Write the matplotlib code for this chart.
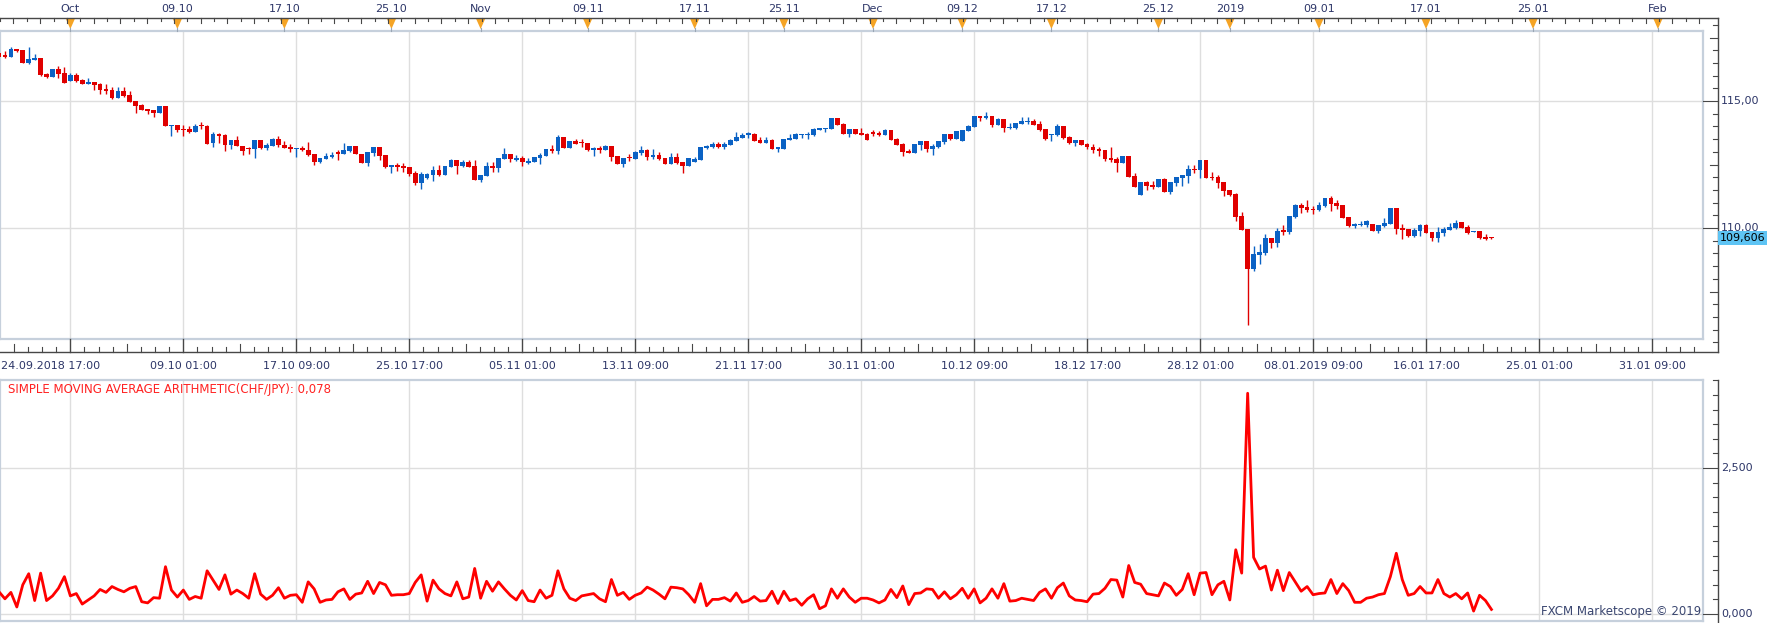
import matplotlib
matplotlib.use('Agg')
import matplotlib.pyplot as plt
import matplotlib.transforms as mtransforms
from matplotlib.patches import Polygon
import numpy as np

# CHF/JPY 8-hour candles
opens = [
    116.88, 116.77, 116.75, 117.05, 116.99, 116.51, 116.63, 116.69, 116.06, 115.96,
    116.26, 116.10, 115.80, 116.02, 115.84, 115.68, 115.75, 115.67, 115.49, 115.43,
    115.13, 115.39, 115.24, 115.00, 114.86, 114.69, 114.65, 114.54, 114.80, 114.00,
    114.05, 113.88, 113.90, 113.79, 114.04, 114.03, 113.33, 113.70, 113.66, 113.28,
    113.46, 113.23, 113.12, 113.10, 113.45, 113.16, 113.24, 113.49, 113.27, 113.19,
    113.11, 113.15, 113.06, 112.91, 112.61, 112.73, 112.79, 113.00, 112.93, 113.04,
    113.23, 112.91, 112.57, 112.97, 113.19, 112.87, 112.40, 112.48, 112.45, 112.40,
    112.16, 111.78, 111.98, 112.10, 112.28, 112.10, 112.42, 112.68, 112.45, 112.61,
    112.44, 111.90, 112.06, 112.44, 112.36, 112.73, 112.91, 112.69, 112.77, 112.57,
    112.61, 112.77, 112.85, 113.11, 113.03, 113.58, 113.16, 113.44, 113.36, 113.35,
    113.07, 113.15, 113.07, 113.23, 112.84, 112.53, 112.77, 112.72, 112.95, 113.07,
    112.81, 112.87, 112.76, 112.52, 112.80, 112.60, 112.45, 112.61, 112.69, 113.16,
    113.19, 113.31, 113.18, 113.28, 113.43, 113.56, 113.66, 113.71, 113.48, 113.36,
    113.47, 113.12, 113.12, 113.47, 113.50, 113.67, 113.67, 113.67, 113.86, 113.90,
    113.91, 114.33, 114.09, 113.71, 113.89, 113.74, 113.71, 113.77, 113.74, 113.67,
    113.86, 113.50, 113.31, 113.05, 112.97, 113.27, 113.43, 113.11, 113.20, 113.40,
    113.70, 113.50, 113.43, 113.81, 113.99, 114.41, 114.34, 114.41, 114.07, 114.29,
    113.94, 113.94, 114.11, 114.17, 114.21, 114.09, 113.90, 113.65, 113.65, 114.02,
    113.58, 113.36, 113.47, 113.31, 113.20, 113.11, 113.07, 112.76, 112.72, 112.56,
    112.84, 112.06, 111.31, 111.81, 111.69, 111.63, 111.93, 111.43, 111.78, 111.98,
    112.06, 112.32, 112.28, 112.68, 112.02, 112.01, 111.81, 111.50, 111.35, 110.47,
    109.96, 108.40, 108.94, 109.02, 109.61, 109.41, 109.91, 109.86, 110.43, 110.90,
    110.83, 110.76, 110.71, 110.87, 111.18, 110.98, 110.90, 110.43, 110.08, 110.12,
    110.12, 110.16, 109.88, 110.08, 110.16, 110.79, 110.00, 109.96, 109.69, 109.88,
    110.12, 109.84, 109.61, 109.80, 109.92, 110.00, 110.24, 110.04, 109.84, 109.88,
    109.65, 109.62,
]
highs = [
    116.91, 116.97, 117.11, 117.06, 117.00, 117.13, 116.85, 116.70, 116.12, 116.26,
    116.36, 116.34, 116.10, 116.10, 115.85, 115.91, 115.76, 115.71, 115.66, 115.56,
    115.54, 115.55, 115.39, 115.01, 114.87, 114.70, 114.66, 114.80, 114.81, 114.05,
    114.06, 114.05, 114.00, 114.08, 114.17, 114.05, 113.78, 113.75, 113.71, 113.46,
    113.62, 113.24, 113.20, 113.46, 113.46, 113.33, 113.54, 113.64, 113.42, 113.32,
    113.14, 113.23, 113.40, 112.92, 112.77, 112.94, 112.99, 113.07, 113.35, 113.24,
    113.24, 112.92, 113.00, 113.20, 113.20, 112.88, 112.49, 112.57, 112.55, 112.41,
    112.23, 112.22, 112.16, 112.44, 112.48, 112.44, 112.72, 112.69, 112.68, 112.68,
    112.68, 112.08, 112.61, 112.61, 112.77, 113.15, 112.92, 112.86, 112.84, 112.76,
    112.81, 112.94, 113.11, 113.27, 113.67, 113.59, 113.42, 113.52, 113.49, 113.36,
    113.20, 113.23, 113.27, 113.24, 112.85, 112.77, 112.90, 113.03, 113.23, 113.12,
    113.11, 113.00, 112.77, 112.97, 112.97, 112.61, 112.77, 112.80, 113.20, 113.25,
    113.40, 113.40, 113.40, 113.49, 113.78, 113.73, 113.79, 113.74, 113.58, 113.58,
    113.49, 113.19, 113.50, 113.69, 113.75, 113.71, 113.78, 113.94, 113.94, 113.92,
    114.33, 114.34, 114.13, 113.89, 113.90, 113.94, 113.75, 113.85, 113.81, 113.90,
    113.87, 113.56, 113.33, 113.10, 113.31, 113.43, 113.44, 113.31, 113.43, 113.70,
    113.71, 113.82, 113.86, 114.07, 114.41, 114.42, 114.57, 114.42, 114.33, 114.30,
    114.13, 114.13, 114.37, 114.36, 114.29, 114.20, 113.91, 113.71, 114.09, 114.03,
    113.62, 113.48, 113.48, 113.33, 113.29, 113.20, 113.08, 113.20, 112.78, 112.84,
    112.85, 112.16, 111.81, 111.86, 111.85, 111.93, 111.96, 111.82, 111.99, 112.09,
    112.48, 112.48, 112.68, 112.69, 112.22, 112.09, 111.82, 111.51, 111.39, 110.63,
    109.97, 109.29, 109.37, 109.76, 109.62, 110.00, 110.12, 110.47, 110.94, 110.98,
    111.10, 110.88, 111.02, 111.19, 111.26, 111.10, 110.91, 110.44, 110.20, 110.28,
    110.31, 110.17, 110.13, 110.39, 110.79, 110.80, 110.16, 109.97, 110.00, 110.16,
    110.16, 109.85, 110.04, 110.04, 110.20, 110.31, 110.25, 110.12, 109.88, 109.89,
    109.76, 109.63,
]
lows = [
    116.73, 116.71, 116.74, 116.94, 116.50, 116.44, 116.62, 116.00, 115.89, 115.95,
    115.92, 115.70, 115.79, 115.75, 115.68, 115.67, 115.45, 115.29, 115.29, 115.09,
    115.12, 115.17, 114.95, 114.54, 114.65, 114.50, 114.38, 114.53, 114.00, 113.64,
    113.77, 113.64, 113.75, 113.78, 113.90, 113.31, 113.20, 113.33, 113.04, 113.12,
    113.21, 112.89, 112.93, 112.77, 113.12, 113.08, 113.22, 113.19, 113.15, 113.00,
    112.81, 113.03, 112.85, 112.49, 112.57, 112.70, 112.74, 112.69, 112.92, 112.99,
    112.90, 112.56, 112.44, 112.85, 112.66, 112.38, 112.17, 112.24, 112.22, 112.06,
    111.69, 111.55, 111.94, 111.86, 112.05, 112.09, 112.41, 112.14, 112.42, 112.39,
    111.90, 111.81, 112.05, 112.22, 112.22, 112.72, 112.60, 112.62, 112.44, 112.53,
    112.60, 112.53, 112.84, 112.95, 112.93, 113.16, 113.15, 113.29, 113.18, 113.03,
    112.85, 112.97, 113.06, 112.65, 112.53, 112.40, 112.65, 112.71, 112.87, 112.66,
    112.70, 112.66, 112.51, 112.51, 112.52, 112.18, 112.44, 112.60, 112.68, 113.11,
    113.15, 113.15, 113.12, 113.27, 113.42, 113.53, 113.56, 113.44, 113.36, 113.35,
    113.10, 113.01, 113.11, 113.46, 113.49, 113.56, 113.52, 113.61, 113.85, 113.78,
    113.90, 114.07, 113.70, 113.60, 113.70, 113.67, 113.48, 113.61, 113.62, 113.66,
    113.45, 113.28, 112.85, 112.94, 112.96, 113.07, 113.01, 112.89, 113.16, 113.32,
    113.45, 113.49, 113.42, 113.80, 113.98, 114.23, 114.30, 113.99, 114.06, 113.78,
    113.91, 113.90, 114.10, 114.11, 114.06, 113.83, 113.48, 113.44, 113.64, 113.50,
    113.31, 113.24, 113.25, 113.12, 112.95, 112.85, 112.64, 112.61, 112.20, 112.55,
    112.02, 111.62, 111.30, 111.51, 111.52, 111.62, 111.43, 111.35, 111.67, 111.67,
    111.79, 112.15, 111.98, 111.98, 111.89, 111.59, 111.26, 111.27, 110.29, 109.93,
    106.19, 108.32, 108.60, 108.94, 109.21, 109.25, 109.72, 109.76, 110.39, 110.59,
    110.63, 110.55, 110.67, 110.83, 110.67, 110.75, 110.39, 110.04, 110.00, 110.08,
    110.04, 109.88, 109.80, 110.04, 110.15, 109.76, 109.57, 109.65, 109.65, 109.69,
    109.80, 109.49, 109.45, 109.69, 109.91, 109.96, 109.99, 109.76, 109.83, 109.57,
    109.53, 109.55,
]
closes = [
    116.75, 116.75, 117.05, 116.98, 116.51, 116.65, 116.69, 116.02, 115.94, 116.26,
    116.08, 115.72, 116.04, 115.80, 115.68, 115.75, 115.63, 115.45, 115.41, 115.12,
    115.39, 115.21, 114.97, 114.82, 114.66, 114.61, 114.54, 114.80, 114.00, 114.05,
    113.87, 113.86, 113.79, 114.02, 114.02, 113.32, 113.69, 113.64, 113.28, 113.45,
    113.22, 113.04, 113.10, 113.45, 113.16, 113.27, 113.50, 113.26, 113.16, 113.12,
    113.14, 113.06, 112.89, 112.61, 112.76, 112.85, 112.89, 112.93, 113.07, 113.23,
    112.90, 112.57, 112.99, 113.19, 112.85, 112.40, 112.48, 112.40, 112.38, 112.14,
    111.78, 112.13, 112.13, 112.28, 112.10, 112.44, 112.68, 112.45, 112.61, 112.42,
    111.90, 112.07, 112.44, 112.36, 112.76, 112.91, 112.73, 112.77, 112.59, 112.65,
    112.80, 112.87, 113.11, 113.03, 113.58, 113.16, 113.41, 113.31, 113.35, 113.07,
    113.15, 113.07, 113.23, 112.81, 112.53, 112.76, 112.74, 113.00, 113.06, 112.81,
    112.86, 112.72, 112.53, 112.80, 112.57, 112.45, 112.76, 112.72, 113.19, 113.23,
    113.31, 113.18, 113.32, 113.48, 113.58, 113.66, 113.74, 113.44, 113.36, 113.47,
    113.11, 113.18, 113.50, 113.54, 113.71, 113.70, 113.71, 113.90, 113.94, 113.92,
    114.33, 114.07, 113.71, 113.89, 113.71, 113.67, 113.48, 113.71, 113.67, 113.86,
    113.48, 113.28, 113.01, 112.97, 113.31, 113.43, 113.11, 113.23, 113.43, 113.70,
    113.49, 113.82, 113.86, 114.03, 114.41, 114.34, 114.42, 114.06, 114.29, 113.95,
    113.98, 114.13, 114.21, 114.21, 114.07, 113.86, 113.50, 113.70, 114.02, 113.54,
    113.36, 113.47, 113.28, 113.18, 113.07, 113.03, 112.72, 112.68, 112.56, 112.84,
    112.02, 111.63, 111.81, 111.65, 111.61, 111.93, 111.43, 111.81, 111.99, 112.09,
    112.32, 112.28, 112.68, 111.98, 111.97, 111.79, 111.47, 111.31, 110.45, 109.93,
    108.40, 108.98, 109.06, 109.61, 109.41, 109.88, 109.86, 110.47, 110.90, 110.79,
    110.71, 110.72, 110.90, 111.18, 110.94, 110.87, 110.39, 110.08, 110.16, 110.16,
    110.29, 109.88, 110.12, 110.20, 110.79, 109.96, 109.92, 109.69, 109.92, 110.12,
    109.80, 109.61, 109.84, 109.96, 110.04, 110.20, 110.00, 109.80, 109.87, 109.61,
    109.57, 109.606,
]
# lower panel indicator line
sma_values = [
    0.38, 0.26, 0.37, 0.12, 0.50, 0.69, 0.23, 0.70, 0.23, 0.31,
    0.44, 0.64, 0.31, 0.35, 0.17, 0.24, 0.31, 0.42, 0.37, 0.47,
    0.42, 0.38, 0.44, 0.47, 0.21, 0.19, 0.28, 0.27, 0.81, 0.41,
    0.29, 0.41, 0.25, 0.30, 0.27, 0.74, 0.58, 0.42, 0.67, 0.34,
    0.41, 0.35, 0.27, 0.69, 0.34, 0.25, 0.32, 0.45, 0.27, 0.32,
    0.33, 0.20, 0.55, 0.43, 0.20, 0.24, 0.25, 0.38, 0.43, 0.25,
    0.34, 0.36, 0.56, 0.35, 0.54, 0.50, 0.32, 0.33, 0.33, 0.35,
    0.54, 0.67, 0.22, 0.58, 0.43, 0.35, 0.31, 0.55, 0.26, 0.29,
    0.78, 0.27, 0.56, 0.39, 0.55, 0.43, 0.32, 0.24, 0.40, 0.23,
    0.21, 0.41, 0.27, 0.32, 0.74, 0.43, 0.27, 0.23, 0.31, 0.33,
    0.35, 0.26, 0.21, 0.59, 0.32, 0.37, 0.25, 0.32, 0.36, 0.46,
    0.41, 0.34, 0.26, 0.46, 0.45, 0.43, 0.33, 0.20, 0.52, 0.14,
    0.25, 0.25, 0.28, 0.22, 0.36, 0.20, 0.23, 0.30, 0.22, 0.23,
    0.39, 0.18, 0.39, 0.23, 0.26, 0.15, 0.26, 0.33, 0.09, 0.14,
    0.43, 0.27, 0.43, 0.29, 0.20, 0.27, 0.27, 0.24, 0.19, 0.24,
    0.42, 0.28, 0.48, 0.16, 0.35, 0.36, 0.43, 0.42, 0.27, 0.38,
    0.26, 0.33, 0.44, 0.27, 0.43, 0.19, 0.27, 0.43, 0.27, 0.52,
    0.22, 0.23, 0.27, 0.25, 0.23, 0.37, 0.43, 0.27, 0.45, 0.53,
    0.31, 0.24, 0.23, 0.21, 0.34, 0.35, 0.44, 0.59, 0.58, 0.29,
    0.83, 0.54, 0.51, 0.35, 0.33, 0.31, 0.53, 0.47, 0.32, 0.42,
    0.69, 0.33, 0.70, 0.71, 0.33, 0.50, 0.56, 0.24, 1.10, 0.70,
    3.78, 0.97, 0.77, 0.82, 0.41, 0.75, 0.40, 0.71, 0.55, 0.39,
    0.47, 0.33, 0.35, 0.36, 0.59, 0.35, 0.52, 0.40, 0.20, 0.20,
    0.27, 0.29, 0.33, 0.35, 0.64, 1.04, 0.59, 0.32, 0.35, 0.47,
    0.36, 0.36, 0.59, 0.35, 0.29, 0.35, 0.26, 0.36, 0.05, 0.32,
    0.23, 0.078,
]

# time axes (positions in candle numbers)
grid_idx = [12, 31, 50, 69, 88, 107, 126, 145, 164, 183, 202, 221, 240, 259, 278]
grid_labels = ['24.09.2018 17:00', '09.10 01:00', '17.10 09:00', '25.10 17:00',
               '05.11 01:00', '13.11 09:00', '21.11 17:00', '30.11 01:00',
               '10.12 09:00', '18.12 17:00', '28.12 01:00', '08.01.2019 09:00',
               '16.01 17:00', '25.01 01:00', '31.01 09:00']
top_idx = [12, 30, 48, 66, 81, 99, 117, 132, 147, 162, 177, 195, 207, 222, 240, 258, 279]
top_labels = ['Oct', '09.10', '17.10', '25.10', 'Nov', '09.11', '17.11', '25.11',
              'Dec', '09.12', '17.12', '25.12', '2019', '09.01', '17.01', '25.01', 'Feb']
price_ticks = [110.0, 115.0]
price_tick_labels = ['110,00', '115,00']
sma_ticks = [0.0, 2.5]
sma_tick_labels = ['0,000', '2,500']

RED = '#e00000'
BLUE = '#0b62c4'
GRID = '#dedede'
FRAME = '#c6d0dc'
AXIS = '#474747'
TXT = '#2d3668'

W, H = 1775, 623
PX = 5.946          # pixels per candle
PLOT_R, AXIS_X = 1703, 1718
TOP_T, TOP_B = 31, 339
BOT_T, BOT_B = 380, 621
TOPAXIS_Y, DATEAXIS_Y = 18, 352

fig = plt.figure(figsize=(W / 100, H / 100), dpi=100)
fig.patch.set_facecolor('white')


def px_rect(l, t, r, b):
    return [l / W, 1 - b / H, (r - l) / W, (b - t) / H]


ax_top = fig.add_axes(px_rect(0, TOP_T, PLOT_R, TOP_B))
ax_bot = fig.add_axes(px_rect(0, BOT_T, PLOT_R, BOT_B))
xlim = (1 / PX, (PLOT_R + 1) / PX)

for ax in (ax_top, ax_bot):
    ax.set_xlim(*xlim)
    ax.set_xticks([])
    ax.set_yticks([])
    for s in ax.spines.values():
        s.set_color(FRAME)
        s.set_linewidth(1.6)
    for g in grid_idx:
        ax.axvline(g, color=GRID, lw=1.0, zorder=0)

ax_top.set_ylim(105.63, 117.756)
ax_bot.set_ylim(-0.12, 4.007)
for p in price_ticks:
    ax_top.axhline(p, color=GRID, lw=1.0, zorder=0)
for v in sma_ticks:
    ax_bot.axhline(v, color=GRID, lw=1.0, zorder=0)

# candles
o = np.array(opens)
h = np.array(highs)
l = np.array(lows)
c = np.array(closes)
idx = np.arange(len(o))
cols = [BLUE if cc >= oo else RED for oo, cc in zip(o, c)]
body_lo = np.minimum(o, c)
body_h = np.maximum(np.abs(c - o), 0.045)
ax_top.vlines(idx, l, h, colors=cols, lw=1.0, zorder=2)
ax_top.bar(idx, body_h, bottom=body_lo, width=0.8, color=cols, linewidth=0, zorder=3)

# indicator
ax_bot.plot(idx, sma_values, color='#ff0000', lw=2.0, zorder=3)

# overlay for axes drawn outside the panels
ovl = fig.add_axes([0, 0, 1, 1])
ovl.set_xlim(0, W)
ovl.set_ylim(H, 0)
ovl.axis('off')
ovl.patch.set_alpha(0)

tr_idx = mtransforms.blended_transform_factory(ax_top.transData, ovl.transData)
tr_price = mtransforms.blended_transform_factory(ovl.transData, ax_top.transData)
tr_sma = mtransforms.blended_transform_factory(ovl.transData, ax_bot.transData)

# top time axis
ovl.plot([0, AXIS_X], [TOPAXIS_Y, TOPAXIS_Y], color=AXIS, lw=1.0)
minor = np.arange(xlim[0], xlim[1], 2.25)
for k, m in enumerate(minor):
    ovl.plot([m, m], [TOPAXIS_Y, TOPAXIS_Y + (5 if k % 2 else 3)], color=AXIS, lw=0.8,
             transform=tr_idx)
for i, lab in zip(top_idx, top_labels):
    tri = Polygon([(i - 0.75, TOPAXIS_Y + 1), (i + 0.75, TOPAXIS_Y + 1), (i, TOPAXIS_Y + 11)],
                  closed=True, fc='#f5a425', ec='none', transform=tr_idx)
    ovl.add_patch(tri)
    ovl.plot([i, i], [TOPAXIS_Y + 10, TOP_T], color='#9aa6b4', lw=0.8, transform=tr_idx)
    ovl.text(i, 9, lab, ha='center', va='center', fontsize=8, color=TXT, transform=tr_idx)

# bottom time axis
ovl.plot([0, AXIS_X], [DATEAXIS_Y, DATEAXIS_Y], color=AXIS, lw=1.0)
step = 19 / 8
for g in grid_idx:
    ovl.plot([g, g], [TOP_B, DATEAXIS_Y], color=AXIS, lw=1.0, transform=tr_idx)
    for k in range(1, 8):
        m = g + k * step
        if m < xlim[1]:
            ovl.plot([m, m], [DATEAXIS_Y - (8 if k == 4 else 5), DATEAXIS_Y],
                     color=AXIS, lw=0.8, transform=tr_idx)
    for k in range(1, 8):
        m = g - k * step
        if g == grid_idx[0] and m > xlim[0]:
            ovl.plot([m, m], [DATEAXIS_Y - (8 if k == 4 else 5), DATEAXIS_Y],
                     color=AXIS, lw=0.8, transform=tr_idx)
for n, (g, lab) in enumerate(zip(grid_idx, grid_labels)):
    if n == 0:
        ovl.text(1, 366, lab, ha='left', va='center', fontsize=8, color=TXT)
    else:
        ovl.text(g, 366, lab, ha='center', va='center', fontsize=8, color=TXT,
                 transform=tr_idx)

# right price axis
ovl.plot([AXIS_X, AXIS_X], [TOPAXIS_Y, DATEAXIS_Y], color=AXIS, lw=1.0)
for p in np.arange(105.5, 118.01, 0.5):
    if p % 5 == 0:
        x_start = PLOT_R
    elif p % 2.5 == 0:
        x_start = AXIS_X - 8
    else:
        x_start = AXIS_X - 5
    ovl.plot([x_start, AXIS_X], [p, p], color=AXIS, lw=0.8, transform=tr_price)
for p, lab in zip(price_ticks, price_tick_labels):
    ovl.text(AXIS_X + 3, p, lab, va='center', ha='left', fontsize=8, color=TXT,
             transform=tr_price)
last_label = f"{closes[-1]:.3f}".replace('.', ',')
ovl.text(AXIS_X + 1.5, closes[-1], last_label, va='center', ha='left', fontsize=8,
         color='black', transform=tr_price,
         bbox=dict(boxstyle='square,pad=0.18', fc='#5ec4f4', ec='none'))

# right indicator axis
ovl.plot([AXIS_X, AXIS_X], [BOT_T, H], color=AXIS, lw=1.0)
for v in np.arange(0, 4.01, 0.25):
    x_start = PLOT_R if v % 2.5 == 0 else AXIS_X - 5
    ovl.plot([x_start, AXIS_X], [v, v], color=AXIS, lw=0.8, transform=tr_sma)
for v, lab in zip(sma_ticks, sma_tick_labels):
    ovl.text(AXIS_X + 3, v, lab, va='center', ha='left', fontsize=8, color=TXT,
             transform=tr_sma)

sma_text = 'SIMPLE MOVING AVERAGE ARITHMETIC(CHF/JPY): ' + f"{sma_values[-1]:.3f}".replace('.', ',')
ovl.text(8, 390, sma_text, ha='left', va='center', fontsize=8.5, color='#ff2222')
ovl.text(PLOT_R - 2, 611, 'FXCM Marketscope \u00a9 2019', ha='right', va='center',
         fontsize=8.5, color='#3a4670')

fig.savefig('out.png', dpi=100)
